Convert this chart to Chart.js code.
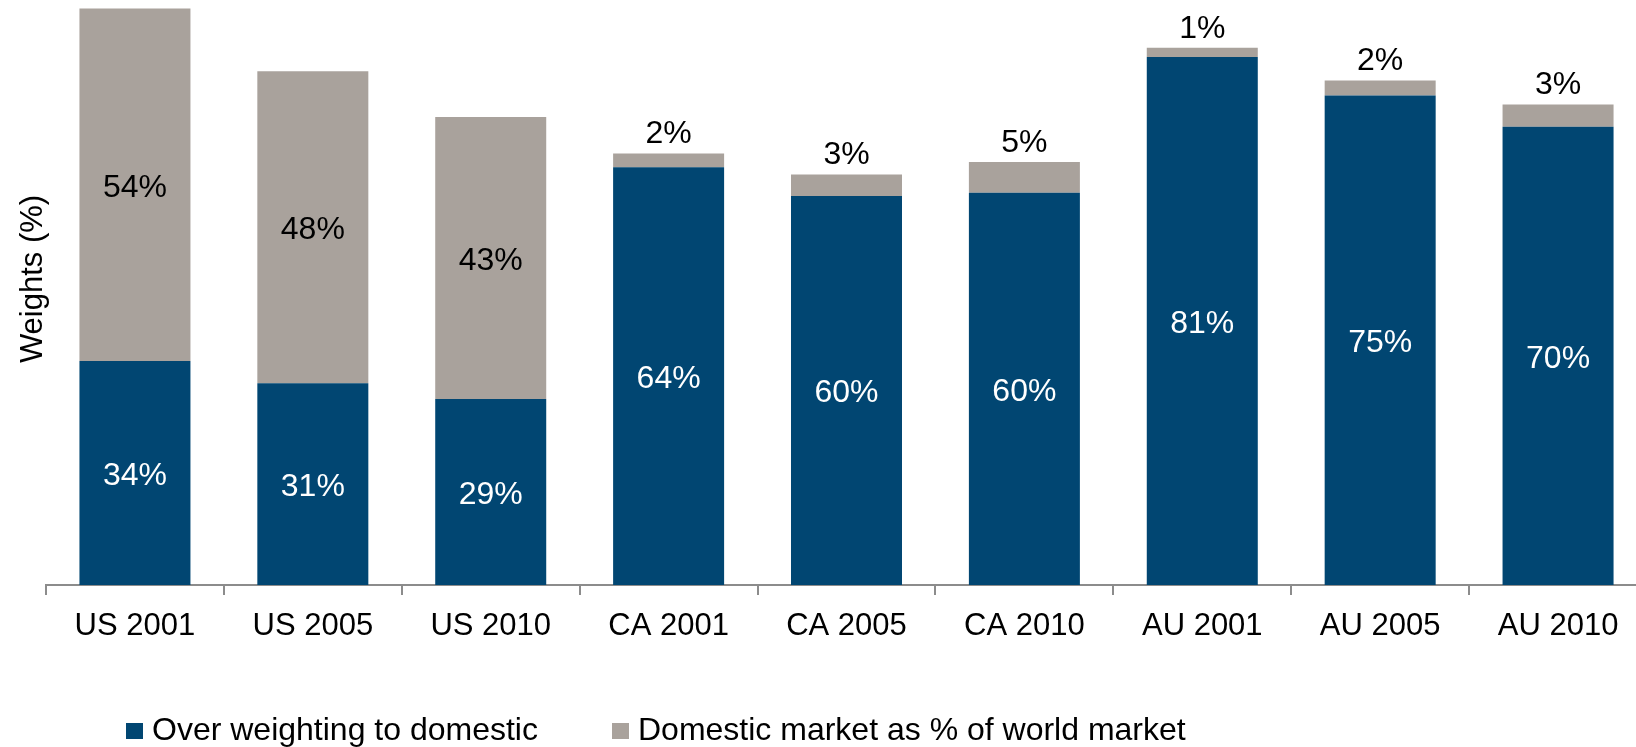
<!DOCTYPE html>
<html>
<head>
<meta charset="utf-8">
<script src="https://cdn.jsdelivr.net/npm/chart.js@4.4.0/dist/chart.umd.min.js"></script>
<style>
html,body{margin:0;padding:0;background:#fff;overflow:hidden;width:1636px;height:747px;}
#wrap{width:1636px;height:747px;overflow:hidden;position:relative;}
canvas{position:absolute;left:0;top:0;}
</style>
</head>
<body>
<div id="wrap"><canvas id="c" width="1660" height="747"></canvas></div>
<script>
const categories = ['US 2001','US 2005','US 2010','CA 2001','CA 2005','CA 2010','AU 2001','AU 2005','AU 2010'];
const overWeighting = [34.3, 30.9, 28.5, 64.0, 59.6, 60.1, 80.9, 75.0, 70.2];
const domesticShare = [54.0, 47.8, 43.2, 2.1, 3.3, 4.7, 1.4, 2.3, 3.4];
const seriesNames = ['Over weighting to domestic', 'Domestic market as % of world market'];
const yAxisTitle = 'Weights (%)';

const BLUE = 'rgb(1,70,114)';
const GRAY = 'rgb(169,162,156)';
const FONT = '"Liberation Sans", Arial, Helvetica, sans-serif';

const labelPlugin = {
  id: 'barLabels',
  afterDatasetsDraw(chart) {
    const ctx = chart.ctx;
    ctx.save();
    ctx.font = '32px ' + FONT;
    ctx.textAlign = 'center';
    ctx.textBaseline = 'middle';
    chart.data.datasets.forEach((ds, di) => {
      const meta = chart.getDatasetMeta(di);
      meta.data.forEach((bar, i) => {
        const v = ds.data[i];
        const txt = Math.round(v) + '%';
        const top = Math.min(bar.y, bar.base), bottom = Math.max(bar.y, bar.base);
        let y, color;
        if (di === 0) { y = (top + bottom) / 2 + 3; color = '#fff'; }
        else if (v >= 10) { y = (top + bottom) / 2 + 3; color = '#000'; }
        else { y = top - 19; color = '#000'; }
        ctx.fillStyle = color;
        ctx.fillText(txt, bar.x, y);
      });
    });
    ctx.restore();
  }
};

const extrasPlugin = {
  id: 'extras',
  afterDraw(chart) {
    const ctx = chart.ctx;
    ctx.save();
    ctx.font = '31px ' + FONT;
    ctx.fillStyle = '#000';
    ctx.translate(33, 279);
    ctx.rotate(-Math.PI / 2);
    ctx.textAlign = 'center';
    ctx.textBaseline = 'middle';
    ctx.fillText(yAxisTitle, 0, 0);
    ctx.restore();
    ctx.save();
    ctx.font = '32px ' + FONT;
    ctx.textBaseline = 'alphabetic';
    ctx.textAlign = 'left';
    const items = [{x: 126}, {x: 612}];
    chart.data.datasets.forEach((ds, i) => {
      const it = items[i];
      ctx.fillStyle = ds.backgroundColor;
      ctx.fillRect(it.x, 723, 17, 16);
      ctx.fillStyle = '#000';
      ctx.fillText(ds.label, it.x + 26, 740);
    });
    ctx.restore();
  }
};

new Chart(document.getElementById('c'), {
  type: 'bar',
  data: {
    labels: categories,
    datasets: [
      { label: seriesNames[0], data: overWeighting, backgroundColor: BLUE, borderWidth: 0 },
      { label: seriesNames[1], data: domesticShare, backgroundColor: GRAY, borderWidth: 0 }
    ]
  },
  options: {
    responsive: false,
    animation: false,
    devicePixelRatio: 1,
    layout: { padding: { left: 46, right: 13, top: 4, bottom: 102 } },
    datasets: { bar: { categoryPercentage: 1, barPercentage: 0.624 } },
    plugins: { legend: { display: false }, tooltip: { enabled: false } },
    scales: {
      x: {
        stacked: true,
        afterFit(s) { s.height = 60; },
        border: { display: true, color: '#8c8c8c', width: 2 },
        grid: { display: true, drawOnChartArea: false, drawTicks: true, tickLength: 10, color: '#8c8c8c', lineWidth: 2, offset: true },
        ticks: { color: '#000', font: { family: FONT, size: 31 }, padding: 13, maxRotation: 0, autoSkip: false }
      },
      y: {
        stacked: true,
        display: false,
        min: 0,
        max: 89
      }
    }
  },
  plugins: [labelPlugin, extrasPlugin]
});
</script>
</body>
</html>
